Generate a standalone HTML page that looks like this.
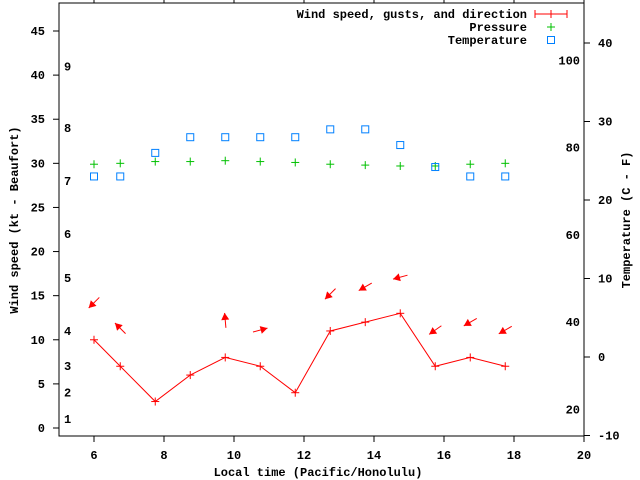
<!DOCTYPE html>
<html><head><meta charset="utf-8"><style>
html,body{margin:0;padding:0;background:#fff}
svg{display:block}
text{font-family:"Liberation Mono","DejaVu Sans Mono",monospace;font-weight:bold;font-size:12px;fill:#000}
</style></head><body>
<svg id="chart" width="640" height="480" viewBox="0 0 640 480"></svg>
<script>
const times=[6,6.75,7.75,8.75,9.75,10.75,11.75,12.75,13.75,14.75,15.75,16.75,17.75];
const windSpeed=[10,7,3,6,8,7,4,11,12,13,7,8,7];
const gustTimes=[6,6.75,9.75,10.75,12.75,13.75,14.75,15.75,16.75,17.75];
const gustSpeed=[14.2,11.3,12.2,11.1,15.2,16,17.1,11.1,12,11.1];
const gustHeading=[225,135,95,15,225,210,195,215,210,210];
const pressure=[29.9,30,30.2,30.2,30.3,30.2,30.1,29.9,29.8,29.7,29.7,29.9,30];
const tempC=[23,23,26,28,28,28,28,29,29,27,24.2,23,23];
const xTicks=[6,8,10,12,14,16,18,20];
const yTicks=[0,5,10,15,20,25,30,35,40,45];
const y2Ticks=[-10,0,10,20,30,40];
const fLabels=[20,40,60,80,100];
const beaufortKt=[1,4,7,11,17,22,28,34,41];
const beaufortLabels=["1","2","3","4","5","6","7","8","9"];

const L=59,R=584,T=3,B=436;
const X=v=>L+(v-5)*(R-L)/15;
const Y=v=>428-v*(397/45);
const Y2=c=>357-c*7.85;
const NS="http://www.w3.org/2000/svg";
const svg=document.getElementById('chart');
function mk(tag,attrs,parent){const e=document.createElementNS(NS,tag);for(const k in attrs)e.setAttribute(k,attrs[k]);(parent||svg).appendChild(e);return e;}
function txt(x,y,s,anchor){const t=mk('text',{x:x,y:y,'text-anchor':anchor||'middle'});t.textContent=s;return t;}

// frame
const frame=mk('rect',{x:L,y:T,width:R-L,height:B-T,fill:'none',stroke:'#000','stroke-width':1});



xTicks.forEach(v=>{
  const tk=mk('line',{x1:X(v),x2:X(v),y1:B,y2:B+6,stroke:'#000'});
  
  
  mk('line',{x1:X(v),x2:X(v),y1:T,y2:T-6,stroke:'#000'});
  const t=txt(X(v),459,String(v));
  
  
});
yTicks.forEach(v=>{
  const tk=mk('line',{x1:L-6,x2:L,y1:Y(v),y2:Y(v),stroke:'#000'});
  
  
  const t=txt(L-14,Y(v)+4,String(v),'end');
  
  
});
y2Ticks.forEach(v=>{
  const tk=mk('line',{x1:R,x2:R+6,y1:Y2(v),y2:Y2(v),stroke:'#000'});
  
  
  const t=txt(R+14,Y2(v)+4,String(v),'start');
  
  
});
fLabels.forEach(f=>{
  const t=txt(R-4,Y2((f-32)/1.8)+4,String(f),'end');
  
  
});
beaufortKt.forEach((k,i)=>{
  const t=txt(64,Y(k)+4,beaufortLabels[i],'start');
  
  
});

let t1=txt(318,476,'Local time (Pacific/Honolulu)');


let t2=txt(0,0,'Wind speed (kt - Beaufort)');
t2.setAttribute('transform','translate(18,220) rotate(-90)');


let t3=txt(0,0,'Temperature (C - F)');
t3.setAttribute('transform','translate(630,220) rotate(-90)');



// wind line
const pts=times.map((t,i)=>X(t)+','+Y(windSpeed[i])).join(' ');
const wl=mk('polyline',{points:pts,fill:'none',stroke:'#f00','stroke-width':1});


function plus(x,y,c,name){
  const g=mk('g',{});
  
  
  mk('line',{x1:x-4,x2:x+4,y1:y,y2:y,stroke:c},g);
  mk('line',{x1:x,x2:x,y1:y-4,y2:y+4,stroke:c},g);
}
times.forEach((t,i)=>plus(X(t),Y(windSpeed[i]),'#f00','wind-point'));

// gust arrows
gustTimes.forEach((t,i)=>{
  const cx=X(t),cy=Y(gustSpeed[i]),a=gustHeading[i]*Math.PI/180;
  const dx=Math.cos(a),dy=-Math.sin(a),len=15;
  const hx=cx+dx*len/2,hy=cy+dy*len/2,tx=cx-dx*len/2,ty=cy-dy*len/2;
  const g=mk('g',{});
  
  
  mk('line',{x1:tx,y1:ty,x2:hx,y2:hy,stroke:'#f00'},g);
  const px=-dy,py=dx,bl=7,bw=4;
  const bx=hx-dx*bl,by=hy-dy*bl;
  mk('polygon',{points:`${hx},${hy} ${bx+px*bw},${by+py*bw} ${bx-px*bw},${by-py*bw}`,fill:'#f00'},g);
});

// pressure
times.forEach((t,i)=>plus(X(t),Y(pressure[i]),'#00c000','pressure-point'));
// temperature
times.forEach((t,i)=>{
  const r=mk('rect',{x:X(t)-3.5,y:Y2(tempC[i])-3.5,width:7,height:7,fill:'none',stroke:'#0080ff'});
  
  
});

// legend
const lg=mk('g',{});


[['Wind speed, gusts, and direction',18],['Pressure',31],['Temperature',44]].forEach(([s,y])=>{
  const t=mk('text',{x:527,y:y,'text-anchor':'end'},lg);t.textContent=s;
});
mk('line',{x1:535,x2:567,y1:14,y2:14,stroke:'#f00'},lg);
mk('line',{x1:535,x2:535,y1:10,y2:18,stroke:'#f00'},lg);
mk('line',{x1:567,x2:567,y1:10,y2:18,stroke:'#f00'},lg);
mk('line',{x1:551,x2:551,y1:10,y2:18,stroke:'#f00'},lg);
mk('line',{x1:547,x2:555,y1:27,y2:27,stroke:'#00c000'},lg);
mk('line',{x1:551,x2:551,y1:23,y2:31,stroke:'#00c000'},lg);
mk('rect',{x:547.5,y:36.5,width:7,height:7,fill:'none',stroke:'#0080ff'},lg);
</script>
</body></html>
